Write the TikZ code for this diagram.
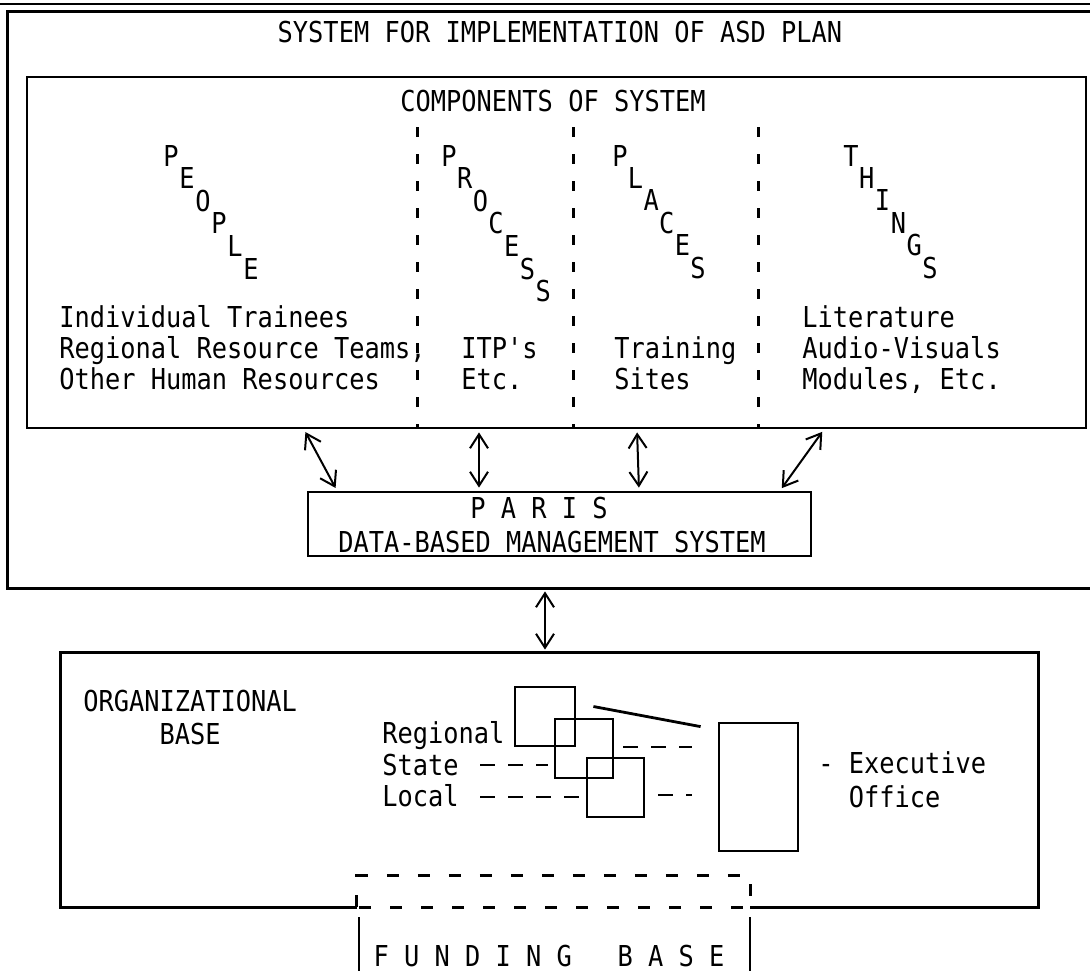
\documentclass[tikz,border=0pt]{standalone}
\usepackage{fontspec}
\setmonofont[FakeStretch=0.88]{DejaVu Sans Mono}
\usetikzlibrary{arrows.meta, fit}

\begin{document}
\begin{tikzpicture}[
    x=0.5pt, y=-0.5pt,
    every node/.style={font=\ttfamily\fontsize{14.4}{15.5}\selectfont, inner sep=0pt},
    frame/.style={draw, line width=1.4pt},
    sepline/.style={line width=1.5pt, dash pattern=on 5pt off 8.5pt},
    dashline/.style={line width=1.3pt, dash pattern=on 7.5pt off 6.5pt},
    fundline/.style={line width=1.3pt, dash pattern=on 6pt off 9.5pt},
    link/.style={line width=1pt, shorten <=1.5pt, shorten >=1.5pt,
        {Straight Barb[length=7pt,width=9pt]}-{Straight Barb[length=7pt,width=9pt]}},
    letter/.style={anchor=base}
]
\useasboundingbox (0,0) rectangle (1090,970);

% System frame
\draw[line width=0.8pt] (0,4) -- (1090,4);
\node[fit={(8,12) (1090,588)}] (sys) {};
\draw[frame] (sys.north east) -- (sys.north west) -- (sys.south west) -- (sys.south east);
\node[anchor=base] (title) at (560,42) {SYSTEM FOR IMPLEMENTATION OF ASD PLAN};

% Components
\node[frame, fit={(27,77) (1086,428)}] (comp) {};
\node[anchor=base] (comptitle) at (553,111) {COMPONENTS OF SYSTEM};
\foreach \x in {417,573,758}
    \draw[sepline] (\x,127) -- (\x,428);

\foreach \c [count=\i from 0] in {P,E,O,P,L,E}
    \node[letter] (people-\i) at ({171+16*\i},{166+22.6*\i}) {\c};
\foreach \c [count=\i from 0] in {P,R,O,C,E,S,S}
    \node[letter] (process-\i) at ({449+15.7*\i},{166+22.6*\i}) {\c};
\foreach \c [count=\i from 0] in {P,L,A,C,E,S}
    \node[letter] (places-\i) at ({620+15.6*\i},{166+22.4*\i}) {\c};
\foreach \c [count=\i from 0] in {T,H,I,N,G,S}
    \node[letter] (things-\i) at ({851+15.8*\i},{166+22.4*\i}) {\c};

% lists (base anchor = last line)
\node[anchor=base west, align=left] (people) at (59,389) {Individual Trainees\\Regional Resource Teams,\\Other Human Resources};
\node[anchor=base west, align=left] (process) at (461,389) {ITP's\\Etc.};
\node[anchor=base west, align=left] (places) at (614,389) {Training\\Sites};
\node[anchor=base west, align=left] (things) at (802,389) {Literature\\Audio-Visuals\\Modules, Etc.};

% PARIS
\node[frame, fit={(308,492) (811,556)}] (paris) {};
\node[anchor=base] (parisname) at (539,518) {P A R I S};
\node[anchor=base] (dbms) at (552,552) {DATA-BASED MANAGEMENT SYSTEM};

\draw[link] (comp.south -| 304,0) -- (paris.north -| 337,0);
\draw[link] (comp.south -| 479,0) -- (paris.north -| 479,0);
\draw[link] (comp.south -| 637,0) -- (paris.north -| 639,0);
\draw[link] (comp.south -| 824,0) -- (paris.north -| 780,0);

% Organizational base
\node[fit={(61,653) (1038,907)}] (org) {};
\node[fit={(357,876) (750,907)}] (fund) {};
\draw[frame] (fund.south west) -- (org.south west) -- (org.north west) -- (org.north east) -- (org.south east) -- (fund.south east);
\draw[link] (sys.south -| 545,0) -- (org.north -| 545,0);

\node[anchor=base west, align=center] (orgname) at (83,744) {ORGANIZATIONAL\\[1pt]BASE};
\node[anchor=base west] (regtxt) at (382,743) {Regional};
\node[anchor=base west] (statetxt) at (382,775) {State};
\node[anchor=base west] (localtxt) at (382,806) {Local};
\node[anchor=base west, align=left] (exectxt) at (818,807) {- Executive\\[1.5pt]\hphantom{- }Office};

\node[frame, fit={(515,687) (575,746)}] (regsq) {};
\node[frame, fit={(555,719) (613,778)}] (statesq) {};
\node[frame, fit={(587,758) (644,817)}] (localsq) {};
\node[frame, fit={(719,723) (798,851)}] (exec) {};

\draw[line width=1.4pt] ([shift={(17,-10)}]regsq.east) -- ([shift={(-17,5)}]exec.north west);
\draw[dashline, shorten <=4.5pt, shorten >=13pt] (statesq.east |- 0,747) -- (exec.west |- 0,747);
\draw[dashline, shorten <=10.5pt, shorten >=3pt] (statetxt.east |- 0,765) -- (statesq.west |- 0,765);
\draw[dashline, shorten <=10.5pt, shorten >=1.5pt] (localtxt.east |- 0,797) -- (localsq.west |- 0,797);
\draw[dashline, shorten <=6.5pt, shorten >=13pt] (localsq.east |- 0,795) -- (exec.west |- 0,795);

% Funding base
\draw[fundline] (fund.south west) rectangle (fund.north east);
\draw[frame] (359,917) -- (359,972);
\draw[frame] (750,917) -- (750,972);
\node[anchor=base] (fundname) at (549,966) {F U N D I N G\ \ \ B A S E};

\end{tikzpicture}
\end{document}
